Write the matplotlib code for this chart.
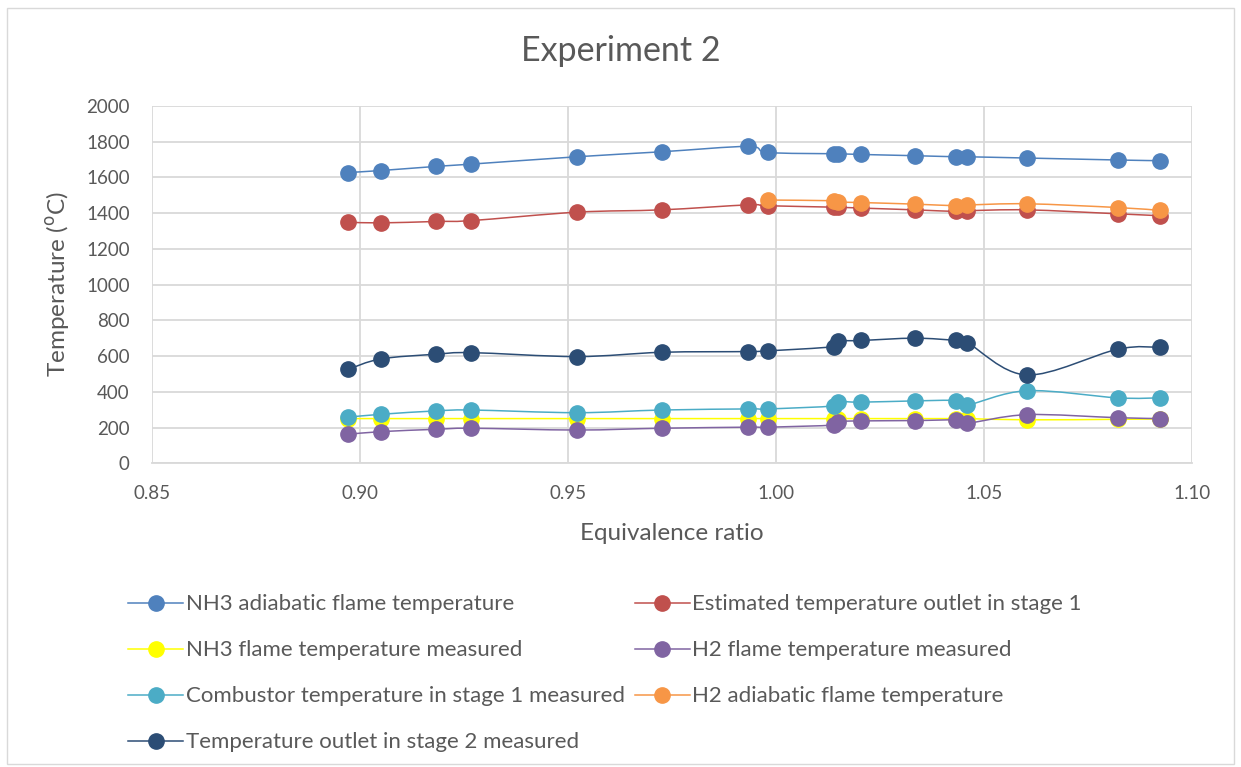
import matplotlib
matplotlib.use("Agg")
import matplotlib.pyplot as plt
import numpy as np
from matplotlib.path import Path
from matplotlib.patches import PathPatch, Rectangle
from matplotlib.lines import Line2D

plt.rcParams['font.family'] = ['Lato', 'DejaVu Sans']

# equivalence ratio (shared x values)
phi = [0.8972, 0.9050, 0.9182, 0.9268, 0.9521, 0.9725, 0.9933, 0.9980, 1.0140,
       1.0148, 1.0204, 1.0334, 1.0433, 1.0460, 1.0603, 1.0821, 1.0923]

nh3_adiabatic = [1627, 1638, 1661, 1674, 1715, 1743, 1773, 1739, 1732,
                 1732, 1728, 1721, 1715, 1715, 1708, 1697, 1693]
est_outlet_1 = [1349, 1345, 1353, 1358, 1405, 1418, 1446, 1441, 1433,
                1433, 1428, 1418, 1409, 1413, 1418, 1396, 1385]
nh3_measured = [250, 250, 250, 250, 250, 250, 250, 250, 250,
                250, 250, 250, 250, 250, 243, 246, 248]
h2_measured = [162, 177, 190, 196, 186, 196, 202, 202, 214,
               233, 237, 239, 242, 224, 272, 255, 250]
comb_stage_1 = [258, 274, 293, 298, 283, 298, 304, 304, 321,
                345, 342, 349, 351, 326, 406, 366, 366]
# H2 adiabatic only from phi = 0.998 on
phi_h2 = phi[7:]
h2_adiabatic = [1473, 1469, 1462, 1459, 1450, 1441, 1445, 1452, 1431, 1415]
outlet_stage_2 = [526, 584, 610, 619, 597, 621, 625, 629, 653,
                  683, 687, 700, 687, 675, 494, 638, 649]

series = [
    ("NH3 adiabatic flame temperature", phi, nh3_adiabatic, "#4F81BD"),
    ("Estimated temperature outlet in stage 1", phi, est_outlet_1, "#C0504D"),
    ("NH3 flame temperature measured", phi, nh3_measured, "#FFFF00"),
    ("H2 flame temperature measured", phi, h2_measured, "#8064A2"),
    ("Combustor temperature in stage 1 measured", phi, comb_stage_1, "#4BACC6"),
    ("H2 adiabatic flame temperature", phi_h2, h2_adiabatic, "#F79646"),
    ("Temperature outlet in stage 2 measured", phi, outlet_stage_2, "#2C4D75"),
]


def smooth_path(x, y):
    # excel style smoothed line: cubic bezier through every point
    p = np.column_stack([x, y]).astype(float)
    n = len(p)
    verts = [p[0]]
    codes = [Path.MOVETO]
    for i in range(n - 1):
        p0 = p[i - 1] if i > 0 else p[i]
        p3 = p[i + 2] if i + 2 < n else p[i + 1]
        c1 = p[i] + (p[i + 1] - p0) / 6.0
        c2 = p[i + 1] - (p3 - p[i]) / 6.0
        verts += [c1, c2, p[i + 1]]
        codes += [Path.CURVE4] * 3
    return Path(verts, codes)


fig = plt.figure(figsize=(12.41, 7.67), dpi=100)
ax = fig.add_axes([0.1225, 0.396, 0.838, 0.466])

handles = []
for name, xs, ys, col in series:
    ax.add_patch(PathPatch(smooth_path(xs, ys), facecolor='none', edgecolor=col, lw=1.1, zorder=3))
    ax.plot(xs, ys, 'o', color=col, ms=11, mec=col, zorder=3)
    handles.append(Line2D([0], [0], color=col, lw=1.1, marker='o', ms=11, mec=col))

ax.set_xlim(0.85, 1.10)
ax.set_ylim(0, 2000)
ax.set_xticks(np.arange(0.85, 1.1001, 0.05))
ax.set_xticklabels(["{:.2f}".format(v) for v in np.arange(0.85, 1.1001, 0.05)])
ax.set_yticks(range(0, 2001, 200))
ax.grid(True, color='#D9D9D9', lw=1.3)
ax.set_axisbelow(True)
for s in ['top', 'right', 'left']:
    ax.spines[s].set_visible(False)
ax.spines['bottom'].set_color('#D9D9D9')
ax.spines['bottom'].set_linewidth(1.3)
ax.tick_params(length=0, labelsize=13.5, colors='#595959')
ax.tick_params(axis='x', pad=16)
ax.tick_params(axis='y', pad=16)

ax.set_xlabel("Equivalence ratio", fontsize=17.5, color='#595959', labelpad=15)
ax.set_ylabel(r"Temperature ($^{\rm o}$C)", fontsize=17.5, color='#595959', labelpad=10)
fig.text(0.5, 0.933, "Experiment 2", ha='center', va='center', fontsize=24.5, color='#595959')

order = [0, 2, 4, 6, 1, 3, 5]
fig.legend([handles[i] for i in order], [series[i][0] for i in order],
           ncol=2, loc='upper left', bbox_to_anchor=(0.103, 0.225), frameon=False,
           fontsize=16, labelcolor='#595959', handlelength=2.5, handletextpad=0.1,
           columnspacing=0.45, labelspacing=1.17, borderpad=0, borderaxespad=0)

fig.patches.append(Rectangle((0.006, 0.004), 0.988, 0.986, transform=fig.transFigure,
                             fill=False, edgecolor='#D9D9D9', lw=1))

fig.savefig("out.png", dpi=100)
